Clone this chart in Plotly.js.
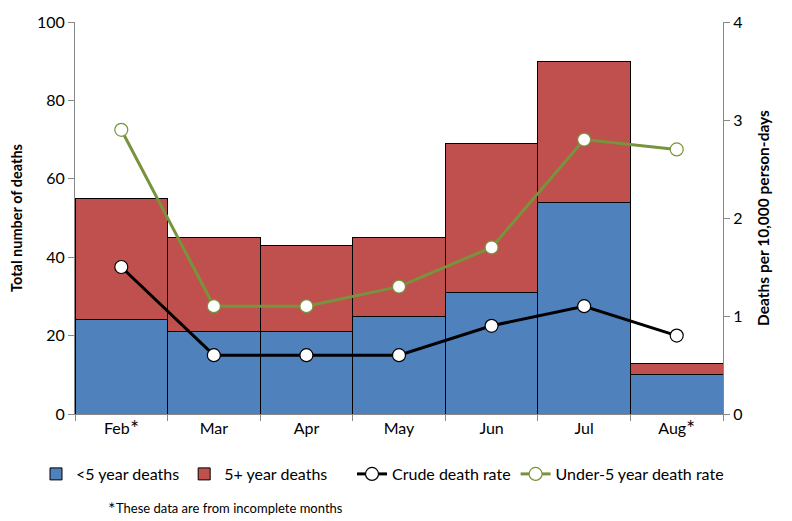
<!DOCTYPE html>
<html>
<head>
<meta charset="utf-8">
<script src="https://cdn.plot.ly/plotly-3.0.1.min.js"></script>
<style>html,body{margin:0;padding:0;background:#fff;}#chart{width:792px;height:521px;}</style>
</head>
<body>
<div id="chart"></div>
<script>
var months = ["Feb<sup>∗</sup>", "Mar", "Apr", "May", "Jun", "Jul", "Aug<sup>∗</sup>"];
var under5Deaths = [24, 21, 21, 25, 31, 54, 10];
var over5Deaths = [31, 24, 22, 20, 38, 36, 3];
var crudeRate = [1.5, 0.6, 0.6, 0.6, 0.9, 1.1, 0.8];
var under5Rate = [2.9, 1.1, 1.1, 1.3, 1.7, 2.8, 2.7];
var leftTicks = [0, 20, 40, 60, 80, 100];
var rightTicks = [0, 1, 2, 3, 4];

var FONT = "Lato, 'Open Sans', sans-serif";

var traces = [
  {type: "bar", name: "<5 year deaths", x: months, y: under5Deaths, legend: "legend",
   marker: {color: "#4F81BD", line: {color: "#000", width: 1}}, hoverinfo: "y"},
  {type: "bar", name: "5+ year deaths", x: months, y: over5Deaths, legend: "legend",
   marker: {color: "#C0504D", line: {color: "#000", width: 1}}, hoverinfo: "y"},
  {type: "scatter", mode: "lines+markers", name: "Crude death rate", x: months, y: crudeRate, yaxis: "y2",
   legend: "legend2",
   line: {color: "#000", width: 3},
   marker: {symbol: "circle", size: 13, color: "#fff", line: {color: "#000", width: 1.2}}},
  {type: "scatter", mode: "lines+markers", name: "Under-5 year death rate", x: months, y: under5Rate, yaxis: "y2",
   legend: "legend2",
   line: {color: "#77933C", width: 3},
   marker: {symbol: "circle", size: 13, color: "#fff", line: {color: "#77933C", width: 1.2}}}
];

var legendY = (521 - 457) / 521;

var layout = {
  width: 792, height: 521,
  margin: {l: 75, r: 69, t: 22, b: 107, autoexpand: false},
  paper_bgcolor: "#fff", plot_bgcolor: "#fff",
  font: {family: FONT, size: 15, color: "#000"},
  barmode: "stack", bargap: 0,
  showlegend: true,
  legend: {orientation: "h", xref: "container", x: 36 / 792, xanchor: "left",
           yref: "container", y: legendY, yanchor: "top",
           traceorder: "normal", font: {size: 16, family: FONT}, itemwidth: 30},
  legend2: {orientation: "h", xref: "container", x: 352 / 792, xanchor: "left",
           yref: "container", y: legendY, yanchor: "top",
           traceorder: "normal", font: {size: 16, family: FONT}, itemwidth: 30},
  xaxis: {type: "category", showline: true, linecolor: "#888", linewidth: 1,
          ticks: "outside", tickson: "boundaries", ticklen: 6, tickcolor: "#888",
          showgrid: false, zeroline: false, tickfont: {size: 16}, fixedrange: true},
  yaxis: {range: [0, 100], tickvals: leftTicks, showline: true, linecolor: "#888", linewidth: 1,
          ticks: "outside", ticklen: 6, tickcolor: "#888", showgrid: false, zeroline: false,
          tickfont: {size: 16},
          title: {text: "<b>Total number of deaths</b>", font: {size: 14.5}, standoff: 10}},
  yaxis2: {range: [0, 4], tickvals: rightTicks, overlaying: "y", side: "right",
           showline: true, linecolor: "#888", linewidth: 1,
           ticks: "outside", ticklen: 6, tickcolor: "#888", showgrid: false, zeroline: false,
           tickfont: {size: 16},
           title: {text: "<b>Deaths per 10,000 person-days</b>", font: {size: 15.5}, standoff: 16}},
  annotations: [
    {xref: "paper", yref: "paper", x: (225 - 75) / 648, y: -(507 - 414) / 392, xanchor: "center", yanchor: "middle",
     showarrow: false, text: "<sup>∗</sup>These data are from incomplete months",
     font: {size: 13, family: FONT}}
  ]
};

Plotly.newPlot("chart", traces, layout, {displayModeBar: false, staticPlot: true});
</script>
</body>
</html>
